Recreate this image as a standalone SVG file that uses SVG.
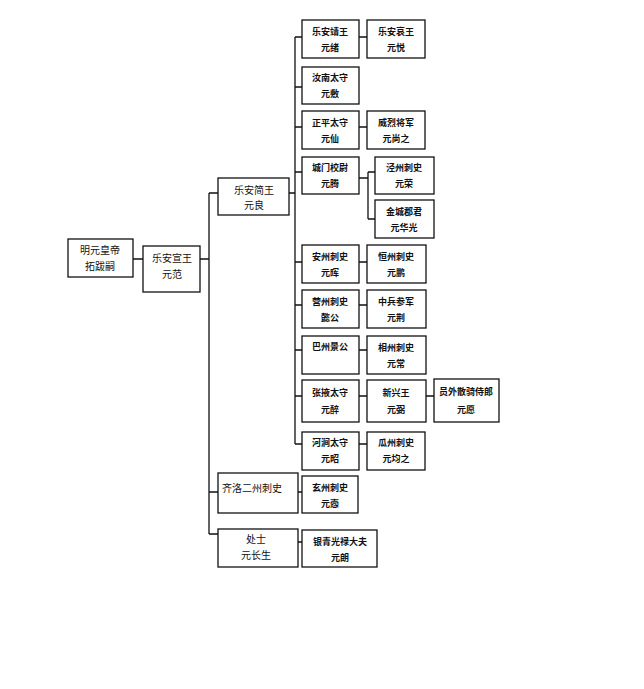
<svg xmlns="http://www.w3.org/2000/svg" width="644" height="689" viewBox="0 0 644 689">
<style>
.b{fill:#fff;stroke:#111;stroke-width:1.3}
.t{font-family:"Noto Sans CJK SC","Noto Sans CJK TC",sans-serif;font-size:10px;fill:#111;text-anchor:middle}
.s{font-size:9px;font-weight:600}
.c{stroke:#111;stroke-width:1.3;fill:none}
</style>
<rect width="644" height="689" fill="#fff"/>
<g id="connectors">
<path class="c" d="M133 259H143M200 259H209M209 193V534M209 193H218M209 492H218M209 534H218"/>
<path class="c" d="M289 193H295M295 37V444M295 37H302M295 87H302M295 127H302M295 172H302M295 262H302M295 305H302M295 350H302M295 396H302M295 444H302"/>
<path class="c" d="M359 37H367M359 127H367M359 262H367M359 305H367M359 350H367M359 396H367M359 444H367M426 396H434"/>
<path class="c" d="M359 178H368M368 172V219M368 172H375M368 219H375"/>
<path class="c" d="M298 492H302M298 542H302"/>
</g>
<g id="n_root"><rect class="b" x="68" y="239" width="65" height="38"/><text class="t" x="100" y="254">明元皇帝</text><text class="t" x="100" y="270">拓跋嗣</text></g>
<g id="n_fan"><rect class="b" x="143" y="246" width="57" height="46"/><text class="t" x="172" y="262">乐安宣王</text><text class="t" x="172" y="278">元范</text></g>
<g id="n_liang"><rect class="b" x="218" y="178" width="71" height="37"/><text class="t" x="254" y="194">乐安简王</text><text class="t" x="254" y="209">元良</text></g>
<g id="n_qiluo"><rect class="b" x="218" y="473" width="80" height="40"/><text class="t" x="252" y="492">齐洛二州刺史</text></g>
<g id="n_chushi"><rect class="b" x="218" y="529" width="80" height="38"/><text class="t" x="256" y="543">处士</text><text class="t" x="256" y="559">元长生</text></g>
<g id="n_xu"><rect class="b" x="302" y="20" width="57" height="38"/><text class="t s" x="330" y="35">乐安靖王</text><text class="t s" x="330" y="51">元绪</text></g>
<g id="n_yue"><rect class="b" x="367" y="20" width="58" height="38"/><text class="t s" x="396" y="35">乐安哀王</text><text class="t s" x="396" y="51">元悦</text></g>
<g id="n_fu"><rect class="b" x="302" y="67" width="57" height="37"/><text class="t s" x="330" y="81">汝南太守</text><text class="t s" x="330" y="97">元敷</text></g>
<g id="n_xian"><rect class="b" x="302" y="111" width="57" height="38"/><text class="t s" x="330" y="126">正平太守</text><text class="t s" x="330" y="142">元仙</text></g>
<g id="n_shangzhi"><rect class="b" x="367" y="111" width="58" height="38"/><text class="t s" x="396" y="126">威烈将军</text><text class="t s" x="396" y="142">元尚之</text></g>
<g id="n_teng"><rect class="b" x="302" y="157" width="57" height="37"/><text class="t s" x="330" y="171">城门校尉</text><text class="t s" x="330" y="187">元腾</text></g>
<g id="n_rong"><rect class="b" x="375" y="157" width="59" height="37"/><text class="t s" x="404" y="171">泾州刺史</text><text class="t s" x="404" y="187">元荣</text></g>
<g id="n_huaguang"><rect class="b" x="375" y="200" width="59" height="38"/><text class="t s" x="404" y="215">金城郡君</text><text class="t s" x="404" y="231">元华光</text></g>
<g id="n_hui"><rect class="b" x="302" y="245" width="57" height="38"/><text class="t s" x="330" y="260">安州刺史</text><text class="t s" x="330" y="276">元晖</text></g>
<g id="n_peng"><rect class="b" x="367" y="245" width="59" height="38"/><text class="t s" x="396" y="260">恒州刺史</text><text class="t s" x="396" y="276">元鹏</text></g>
<g id="n_yi"><rect class="b" x="302" y="290" width="57" height="38"/><text class="t s" x="330" y="305">营州刺史</text><text class="t s" x="330" y="321">懿公</text></g>
<g id="n_jing"><rect class="b" x="367" y="290" width="59" height="38"/><text class="t s" x="396" y="305">中兵参军</text><text class="t s" x="396" y="321">元荆</text></g>
<g id="n_ba"><rect class="b" x="302" y="336" width="57" height="38"/><text class="t s" x="330" y="350">巴州景公</text></g>
<g id="n_chang"><rect class="b" x="367" y="336" width="59" height="38"/><text class="t s" x="396" y="351">相州刺史</text><text class="t s" x="396" y="367">元常</text></g>
<g id="n_zui"><rect class="b" x="302" y="380" width="57" height="42"/><text class="t s" x="330" y="396">张掖太守</text><text class="t s" x="330" y="413">元醉</text></g>
<g id="n_bi"><rect class="b" x="367" y="380" width="59" height="42"/><text class="t s" x="396" y="396">新兴王</text><text class="t s" x="396" y="413">元弼</text></g>
<g id="n_yuan"><rect class="b" x="434" y="379" width="65" height="43"/><text class="t s" x="466" y="395">员外散骑侍郎</text><text class="t s" x="466" y="413">元愿</text></g>
<g id="n_zhao"><rect class="b" x="302" y="432" width="57" height="38"/><text class="t s" x="330" y="446">河涧太守</text><text class="t s" x="330" y="462">元昭</text></g>
<g id="n_junzhi"><rect class="b" x="367" y="432" width="58" height="38"/><text class="t s" x="396" y="446">瓜州刺史</text><text class="t s" x="396" y="462">元均之</text></g>
<g id="n_que"><rect class="b" x="302" y="476" width="56" height="37"/><text class="t s" x="330" y="491">玄州刺史</text><text class="t s" x="330" y="507">元悫</text></g>
<g id="n_lang"><rect class="b" x="302" y="530" width="75" height="37"/><text class="t s" x="340" y="545">银青光禄大夫</text><text class="t s" x="340" y="561">元朗</text></g>
</svg>
